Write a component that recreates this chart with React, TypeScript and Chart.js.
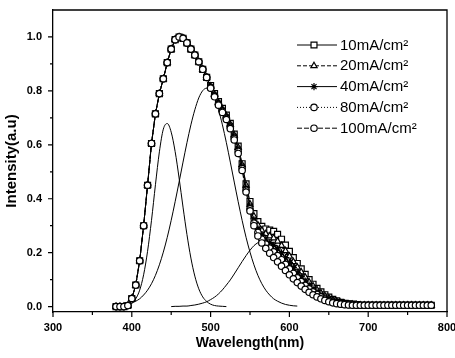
import React, { useEffect, useRef } from 'react';
import { Chart, registerables } from 'chart.js';
import { drawPoint } from 'chart.js/helpers';

Chart.register(...registerables);

// ---------- data ----------
const wavelengths = [
  380, 385, 390, 395, 400, 405, 410, 415, 420, 425, 430, 435, 440, 445, 450, 455, 460, 465, 470, 475,
  480, 485, 490, 495, 500, 505, 510, 515, 520, 525, 530, 535, 540, 545, 550, 555, 560, 565, 570, 575,
  580, 585, 590, 595, 600, 605, 610, 615, 620, 625, 630, 635, 640, 645, 650, 655, 660, 665, 670, 675,
  680, 685, 690, 695, 700, 705, 710, 715, 720, 725, 730, 735, 740, 745, 750, 755, 760, 765, 770, 775, 780,
];

// 380-495 nm, shared by all currents
const riseShared = [
  0.0, 0.0, 0.0, 0.004, 0.03, 0.08, 0.17, 0.3, 0.45, 0.605, 0.715, 0.79, 0.845, 0.905, 0.955, 0.99,
  1.0, 0.995, 0.978, 0.955, 0.933, 0.908, 0.88, 0.85,
];
// 690-780 nm
const tailShared = [
  0.005, 0.005, 0.005, 0.005, 0.005, 0.005, 0.005, 0.005, 0.005, 0.005, 0.005, 0.005, 0.005, 0.005,
  0.005, 0.005, 0.005, 0.005, 0.005,
];
// 500-685 nm per current
const mid10 = [
  0.82, 0.79, 0.76, 0.735, 0.71, 0.68, 0.64, 0.595, 0.53, 0.455, 0.39, 0.345, 0.315, 0.298, 0.288,
  0.284, 0.279, 0.268, 0.25, 0.228, 0.205, 0.182, 0.16, 0.14, 0.12, 0.1, 0.083, 0.068, 0.055, 0.044,
  0.035, 0.027, 0.021, 0.016, 0.012, 0.01, 0.009, 0.008,
];
const mid20 = [
  0.817, 0.787, 0.757, 0.732, 0.707, 0.676, 0.636, 0.59, 0.526, 0.45, 0.38, 0.335, 0.302, 0.283, 0.27,
  0.262, 0.254, 0.242, 0.226, 0.207, 0.187, 0.166, 0.146, 0.128, 0.109, 0.091, 0.076, 0.062, 0.05, 0.04,
  0.031, 0.024, 0.019, 0.014, 0.011, 0.009, 0.008, 0.007,
];
const mid40 = [
  0.814, 0.784, 0.754, 0.728, 0.703, 0.671, 0.631, 0.584, 0.52, 0.44, 0.372, 0.322, 0.288, 0.266, 0.25,
  0.238, 0.227, 0.214, 0.199, 0.182, 0.164, 0.145, 0.127, 0.111, 0.095, 0.08, 0.066, 0.054, 0.043, 0.034,
  0.027, 0.021, 0.016, 0.012, 0.01, 0.008, 0.007, 0.006,
];
const mid80 = [
  0.812, 0.781, 0.75, 0.724, 0.698, 0.665, 0.624, 0.576, 0.512, 0.432, 0.363, 0.31, 0.275, 0.25, 0.232,
  0.217, 0.203, 0.189, 0.174, 0.157, 0.14, 0.123, 0.107, 0.093, 0.079, 0.066, 0.055, 0.045, 0.036, 0.028,
  0.022, 0.017, 0.013, 0.01, 0.008, 0.007, 0.006, 0.006,
];
const mid100 = [
  0.81, 0.778, 0.747, 0.72, 0.694, 0.66, 0.618, 0.568, 0.505, 0.425, 0.355, 0.3, 0.262, 0.236, 0.216,
  0.198, 0.182, 0.166, 0.15, 0.134, 0.118, 0.103, 0.089, 0.076, 0.064, 0.053, 0.044, 0.036, 0.029, 0.023,
  0.018, 0.014, 0.011, 0.009, 0.007, 0.006, 0.005, 0.005,
];

const series10 = [...riseShared, ...mid10, ...tailShared];
const series20 = [...riseShared, ...mid20, ...tailShared];
const series40 = [...riseShared, ...mid40, ...tailShared];
const series80 = [...riseShared, ...mid80, ...tailShared];
const series100 = [...riseShared, ...mid100, ...tailShared];

// Gaussian components
const comp1Wl = [
  395, 400, 405, 410, 415, 420, 425, 430, 435, 440, 445, 450, 455, 460, 465, 470, 475, 480, 485, 490,
  495, 500, 505, 510, 515, 520,
];
const comp1 = [
  0.005, 0.012, 0.029, 0.061, 0.118, 0.205, 0.32, 0.452, 0.574, 0.658, 0.679, 0.647, 0.575, 0.477, 0.369,
  0.267, 0.18, 0.113, 0.066, 0.036, 0.019, 0.009, 0.004, 0.002, 0.001, 0.0,
];
const comp2Wl = [
  400, 405, 410, 415, 420, 425, 430, 435, 440, 445, 450, 455, 460, 465, 470, 475, 480, 485, 490, 495,
  500, 505, 510, 515, 520, 525, 530, 535, 540, 545, 550, 555, 560, 565, 570, 575, 580, 585, 590, 595,
  600, 605, 610,
];
const comp2 = [
  0.013, 0.02, 0.029, 0.043, 0.061, 0.085, 0.116, 0.155, 0.202, 0.257, 0.32, 0.389, 0.462, 0.536, 0.608,
  0.674, 0.73, 0.774, 0.801, 0.81, 0.801, 0.774, 0.73, 0.674, 0.608, 0.536, 0.462, 0.389, 0.32, 0.257,
  0.202, 0.155, 0.116, 0.085, 0.061, 0.043, 0.029, 0.02, 0.013, 0.008, 0.005, 0.003, 0.002,
];
const comp3Wl = [
  450, 455, 460, 465, 470, 475, 480, 485, 490, 495, 500, 505, 510, 515, 520, 525, 530, 535, 540, 545,
  550, 555, 560, 565, 570, 575, 580, 585, 590, 595, 600, 605, 610, 615, 620, 625, 630, 635, 640, 645,
  650, 655, 660, 665, 670, 675, 680, 685, 690, 695, 700,
];
const comp3 = [
  0.0, 0.001, 0.001, 0.002, 0.002, 0.004, 0.006, 0.009, 0.013, 0.018, 0.026, 0.035, 0.047, 0.062, 0.08,
  0.099, 0.121, 0.144, 0.167, 0.189, 0.209, 0.226, 0.237, 0.244, 0.245, 0.24, 0.231, 0.218, 0.201, 0.182,
  0.161, 0.14, 0.119, 0.099, 0.081, 0.065, 0.051, 0.039, 0.03, 0.022, 0.016, 0.011, 0.008, 0.005, 0.004,
  0.002, 0.002, 0.001, 0.001, 0.0, 0.0,
];

const seriesLabels = ['10mA/cm²', '20mA/cm²', '40mA/cm²', '80mA/cm²', '100mA/cm²'];
const xTicks = [300, 400, 500, 600, 700, 800];
const xMinorTicks = [350, 450, 550, 650, 750];
const yTicks = [0.0, 0.2, 0.4, 0.6, 0.8, 1.0];
const yMinorTicks = [0.1, 0.3, 0.5, 0.7, 0.9];

// ---------- styles ----------
const FONT = '"Liberation Sans", Arial, Helvetica, sans-serif';
const seriesStyles = [
  { pointStyle: 'rect', radius: 4.2, dash: [] as number[] },
  { pointStyle: 'triangle', radius: 3.6, dash: [4, 2] },
  { pointStyle: 'star', radius: 3.6, dash: [] as number[] },
  { pointStyle: 'circle', radius: 3.2, dash: [1, 2] },
  { pointStyle: 'circle', radius: 3.2, dash: [5, 2] },
];

const toXY = (xs: number[], ys: number[]) => xs.map((x, i) => ({ x, y: ys[i] }));

const framePlugin = {
  id: 'frameTicks',
  afterDraw(chart: any) {
    const { ctx, chartArea, scales } = chart;
    const { left, right, top, bottom } = chartArea;
    ctx.save();
    ctx.strokeStyle = '#000';
    ctx.lineWidth = 1.3;
    ctx.beginPath();
    ctx.moveTo(left, top);
    ctx.lineTo(right, top);
    ctx.lineTo(right, bottom);
    ctx.stroke();
    ctx.lineWidth = 1.2;
    ctx.beginPath();
    xTicks.forEach((v) => {
      const px = scales.x.getPixelForValue(v);
      ctx.moveTo(px, bottom);
      ctx.lineTo(px, bottom + 5);
    });
    xMinorTicks.forEach((v) => {
      const px = scales.x.getPixelForValue(v);
      ctx.moveTo(px, bottom);
      ctx.lineTo(px, bottom + 3);
    });
    yTicks.forEach((v) => {
      const py = scales.y.getPixelForValue(v);
      ctx.moveTo(left, py);
      ctx.lineTo(left - 5, py);
    });
    yMinorTicks.forEach((v) => {
      const py = scales.y.getPixelForValue(v);
      ctx.moveTo(left, py);
      ctx.lineTo(left - 3, py);
    });
    ctx.stroke();
    ctx.restore();
  },
};

const legendPlugin = {
  id: 'insideLegend',
  afterDraw(chart: any) {
    const { ctx } = chart;
    const lineX0 = 297;
    const lineX1 = 337;
    const markX = 314;
    const textX = 340;
    const rowY0 = 45;
    const rowGap = 20.8;
    ctx.save();
    seriesLabels.forEach((label, i) => {
      const y = rowY0 + i * rowGap;
      const st = seriesStyles[i];
      ctx.strokeStyle = '#000';
      ctx.lineWidth = 1;
      ctx.setLineDash(st.dash);
      ctx.beginPath();
      ctx.moveTo(lineX0, y);
      ctx.lineTo(lineX1, y);
      ctx.stroke();
      ctx.setLineDash([]);
      ctx.fillStyle = '#fff';
      ctx.strokeStyle = '#000';
      ctx.lineWidth = 1.2;
      drawPoint(ctx, { pointStyle: st.pointStyle, radius: st.radius, borderWidth: 1.2, rotation: 0 } as any, markX, y);
      ctx.fillStyle = '#000';
      ctx.font = `15px ${FONT}`;
      ctx.textAlign = 'left';
      ctx.textBaseline = 'middle';
      ctx.fillText(label, textX, y + 0.5);
    });
    ctx.restore();
  },
};

export default function App() {
  const canvasRef = useRef<HTMLCanvasElement | null>(null);

  useEffect(() => {
    if (!canvasRef.current) return;
    const allSeries = [series10, series20, series40, series80, series100];
    const dataSets: any[] = allSeries.map((vals, i) => ({
      label: seriesLabels[i],
      data: toXY(wavelengths, vals),
      borderColor: '#000',
      borderWidth: 1,
      borderDash: seriesStyles[i].dash,
      pointStyle: seriesStyles[i].pointStyle,
      pointRadius: seriesStyles[i].radius,
      pointBorderWidth: 1.2,
      pointBorderColor: '#000',
      pointBackgroundColor: '#fff',
      fill: false,
      tension: 0,
      order: 4 - i,
    }));
    [
      [comp1Wl, comp1],
      [comp2Wl, comp2],
      [comp3Wl, comp3],
    ].forEach(([xs, ys], k) => {
      dataSets.push({
        label: `Peak ${k + 1}`,
        data: toXY(xs, ys),
        borderColor: '#000',
        borderWidth: 1,
        pointRadius: 0,
        fill: false,
        cubicInterpolationMode: 'monotone',
        order: 10,
      });
    });

    const chart = new Chart(canvasRef.current, {
      type: 'line',
      data: { datasets: dataSets },
      options: {
        animation: false,
        responsive: false,
        devicePixelRatio: 1,
        layout: { padding: { top: 10, right: 8, left: 0, bottom: 0 } },
        plugins: { legend: { display: false }, tooltip: { enabled: false } },
        scales: {
          x: {
            type: 'linear',
            min: 300,
            max: 800,
            afterBuildTicks: (s: any) => {
              s.ticks = xTicks.map((v) => ({ value: v }));
            },
            afterFit: (s: any) => {
              s.height = 46;
              s.paddingLeft = 0;
              s.paddingRight = 0;
            },
            grid: { display: false, drawTicks: false },
            border: { display: true, color: '#000', width: 1.3 },
            ticks: {
              color: '#000',
              font: { family: FONT, size: 11, weight: 'bold' },
              padding: 9,
              maxRotation: 0,
              autoSkip: false,
              callback: (v: any) => String(v),
            },
            title: {
              display: true,
              text: 'Wavelength(nm)',
              color: '#000',
              font: { family: FONT, size: 14, weight: 'bold' },
              padding: { top: 0, bottom: 6 },
            },
          },
          y: {
            type: 'linear',
            min: -0.02,
            max: 1.1,
            afterBuildTicks: (s: any) => {
              s.ticks = yTicks.map((v) => ({ value: v }));
            },
            afterFit: (s: any) => {
              s.width = 53;
              s.paddingTop = 0;
              s.paddingBottom = 0;
            },
            grid: { display: false, drawTicks: false },
            border: { display: true, color: '#000', width: 1.3 },
            ticks: {
              color: '#000',
              font: { family: FONT, size: 11, weight: 'bold' },
              padding: 11,
              callback: (v: any) => Number(v).toFixed(1),
            },
            title: {
              display: true,
              text: 'Intensity(a.u)',
              color: '#000',
              font: { family: FONT, size: 15, weight: 'bold' },
              padding: { top: 3, bottom: 0 },
            },
          },
        },
      } as any,
      plugins: [framePlugin, legendPlugin],
    });
    return () => chart.destroy();
  }, []);

  return (
    <div style={{ position: 'absolute', left: 0, top: 0, width: 455, height: 358, background: '#fff' }}>
      <canvas ref={canvasRef} width={455} height={358} style={{ display: 'block' }} />
    </div>
  );
}
